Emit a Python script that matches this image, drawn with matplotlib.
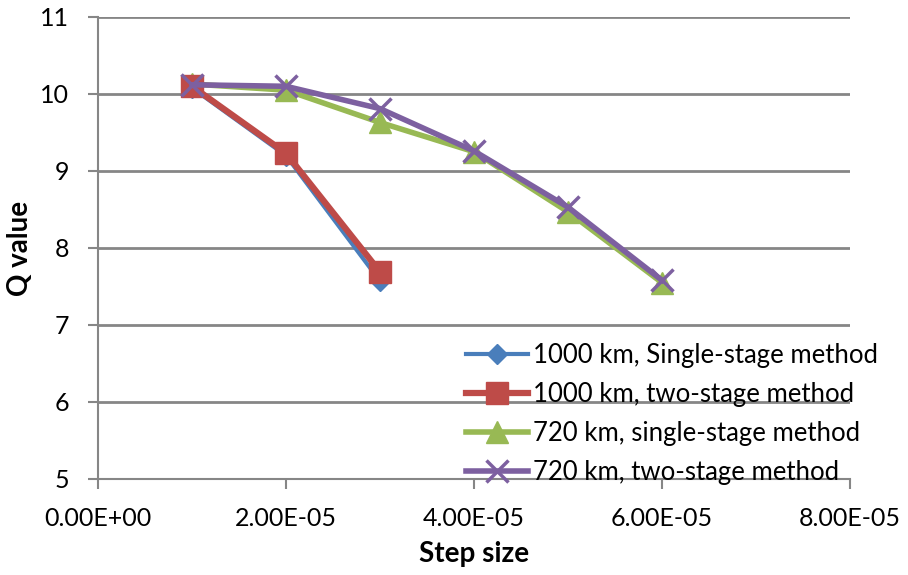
import matplotlib
matplotlib.use('Agg')
import matplotlib.pyplot as plt
from matplotlib.ticker import FuncFormatter

# data
steps_1000 = [1e-5, 2e-5, 3e-5]
q_1000_single = [10.08, 9.20, 7.57]
q_1000_two = [10.10, 9.23, 7.69]

steps_720 = [1e-5, 2e-5, 3e-5, 4e-5, 5e-5, 6e-5]
q_720_single = [10.13, 10.05, 9.63, 9.25, 8.47, 7.55]
q_720_two = [10.12, 10.10, 9.81, 9.26, 8.53, 7.58]

labels = ['1000 km, Single-stage method', '1000 km, two-stage method',
          '720 km, single-stage method', '720 km, two-stage method']

plt.rcParams['font.family'] = ['Lato', 'DejaVu Sans']

fig = plt.figure(figsize=(9.08, 5.75), dpi=100)
ax = fig.add_axes([98 / 908, 1 - 479 / 575, (850 - 98) / 908, (479 - 17) / 575])

ax.plot(steps_1000, q_1000_single, '-D', color='#4A7EBB', lw=3,
        markersize=10, label=labels[0], zorder=3)
ax.plot(steps_1000, q_1000_two, '-s', color='#BE4B48', lw=4.5,
        markersize=16, label=labels[1], zorder=4)
ax.plot(steps_720, q_720_single, '-^', color='#98B954', lw=4,
        markersize=16, label=labels[2], zorder=3)
ax.plot(steps_720, q_720_two, '-x', color='#7D60A0', lw=4,
        markersize=16, markeredgewidth=2.5, label=labels[3], zorder=4)

ax.set_xlim(0, 8e-5)
ax.set_ylim(5, 11)
ax.set_xticks([0, 2e-5, 4e-5, 6e-5, 8e-5])
ax.set_yticks(range(5, 12))
ax.xaxis.set_major_formatter(FuncFormatter(lambda v, p: f"{v:.2E}"))

ax.grid(axis='y', color='#868686', lw=2)
ax.set_axisbelow(True)
for s in ['top', 'right']:
    ax.spines[s].set_visible(False)
for s in ['left', 'bottom']:
    ax.spines[s].set_color('#868686')
    ax.spines[s].set_linewidth(1.5)
ax.tick_params(axis='both', direction='out', length=7, width=1.5,
               color='#868686', labelsize=18)
ax.tick_params(axis='x', pad=13)
ax.tick_params(axis='y', pad=14)

ax.set_xlabel('Step size', fontsize=20, fontweight='bold', labelpad=8)
ax.set_ylabel('Q value', fontsize=20, fontweight='bold', labelpad=5)

ax.legend(loc='upper left', bbox_to_anchor=(466 / 908, 1 - 343 / 575),
          bbox_transform=fig.transFigure, frameon=False, borderpad=0,
          fontsize=18.5, handlelength=2.4, handletextpad=0.2,
          labelspacing=0.55, borderaxespad=0)

fig.savefig('out.png', dpi=100, facecolor='white')
